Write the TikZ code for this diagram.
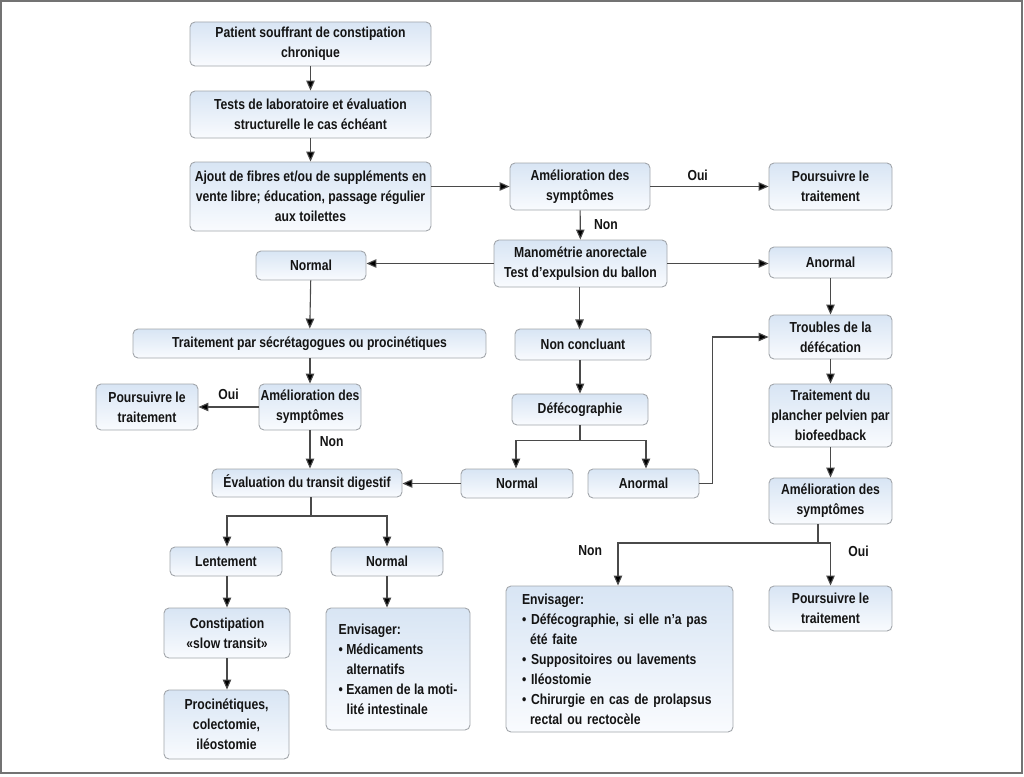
\documentclass[tikz,border=0pt]{standalone}
\usepackage{fontspec}
\setmainfont[FakeStretch=0.84]{Liberation Sans}
\usetikzlibrary{arrows.meta,shapes.misc}
\definecolor{boxtop}{HTML}{D8E5F4}
\definecolor{boxbot}{HTML}{F9FBFE}
\definecolor{boxline}{HTML}{A2A6AB}
\definecolor{conn}{HTML}{4A4A4A}
\definecolor{txt}{HTML}{141414}
\begin{document}
\begin{tikzpicture}[x=1pt,y=-1pt,
  box/.style={draw=boxline, line width=0.9pt, rounded corners=5pt, top color=boxtop, bottom color=boxbot,
    inner sep=1pt, align=center, font=\fontsize{14.5}{20}\selectfont\bfseries, text=txt},
  lbox/.style={box, align=left, text width=#1},
  arr/.style={draw=conn, line width=1.1pt, -{Triangle[length=10pt,width=8.5pt,fill=black]}},
  ln/.style={draw=conn, line width=1.1pt},
  lab/.style={font=\fontsize{14.5}{16}\selectfont\bfseries, text=txt}]
\useasboundingbox (0,0) rectangle (1024,776);
\draw[draw=gray!90!black, line width=2pt] (1,1) rectangle (1022,773);

\node[box, minimum width=241, minimum height=44] (p1) at (310.5,44) {Patient souffrant de constipation\\chronique};
\node[box, minimum width=241, minimum height=47] (p2) at (310.5,114.5) {Tests de laboratoire et évaluation\\structurelle le cas échéant};
\node[box, minimum width=241, minimum height=69] (p3) at (310.5,196.5) {Ajout de fibres et/ou de suppléments en\\vente libre; éducation, passage régulier\\aux toilettes};
\node[box, minimum width=140, minimum height=47] (am1) at (580,186.5) {Amélioration des\\symptômes};
\node[box, minimum width=123, minimum height=47] (po1) at (830.5,186.5) {Poursuivre le\\traitement};
\node[box, minimum width=173, minimum height=47] (mano) at (580.5,263.5) {Manométrie anorectale\\Test d’expulsion du ballon};
\node[box, minimum width=110, minimum height=29] (nl) at (311,265.5) {Normal};
\node[box, minimum width=123, minimum height=31] (an1) at (830.5,262.5) {Anormal};
\node[box, minimum width=353, minimum height=29] (tsp) at (309.5,343.5) {Traitement par sécrétagogues ou procinétiques};
\node[box, minimum width=136, minimum height=31] (nc) at (583,344.5) {Non concluant};
\node[box, minimum width=123, minimum height=44] (tr) at (830.5,337) {Troubles de la\\défécation};
\node[box, minimum width=102, minimum height=46] (po2) at (147,407) {Poursuivre le\\traitement};
\node[box, minimum width=102, minimum height=46, inner sep=0pt] (am2) at (310,407) {Amélioration des\\symptômes};
\node[box, minimum width=136, minimum height=31] (defe) at (580,409.5) {Défécographie};
\node[box, minimum width=123, minimum height=63, inner sep=0pt] (pl) at (830.5,415.5) {Traitement du\\plancher pelvien par\\biofeedback};
\node[box, minimum width=190, minimum height=28] (ev) at (307,483) {Évaluation du transit digestif};
\node[box, minimum width=112, minimum height=29] (nm) at (517,483.5) {Normal};
\node[box, minimum width=111, minimum height=29] (amd) at (643.5,483.5) {Anormal};
\node[box, minimum width=123, minimum height=46] (am3) at (830.5,501) {Amélioration des\\symptômes};
\node[box, minimum width=112, minimum height=29] (le) at (226,561.5) {Lentement};
\node[box, minimum width=112, minimum height=29] (no) at (387,561.5) {Normal};
\node[box, minimum width=126, minimum height=50] (cs) at (227,633) {Constipation\\«slow transit»};
\node[box, minimum width=125, minimum height=69] (pr) at (226.5,724.5) {Procinétiques,\\colectomie,\\iléostomie};
\node[box, align=left, minimum width=144, minimum height=122] (env1) at (398,669) {Envisager:\\
  • Médicaments\\\hspace*{8pt}alternatifs\\
  • Examen de la moti-\\\hspace*{8pt}lité intestinale};
\node[lbox=195, minimum width=227, minimum height=146, inner xsep=16pt] (env2) at (619.5,659) {Envisager:\\
  • Défécographie, si elle n’a pas\\\hspace*{8pt}été faite\\
  • Suppositoires ou lavements\\
  • Iléostomie\\
  • Chirurgie en cas de prolapsus\\\hspace*{8pt}rectal ou rectocèle};
\node[box, minimum width=123, minimum height=45] (po3) at (830.5,608.5) {Poursuivre le\\traitement};

% connectors
\draw[arr] (p1) -- (p2);
\draw[arr] (p2) -- (p3);
\draw[arr] (p3.east |- am1) -- (am1.west);
\draw[arr] (am1) -- node[lab, above=2pt, pos=0.4] {Oui} (po1);
\draw[arr] (am1) -- node[lab, right=10pt] {Non} (mano);
\draw[arr] (mano.west) -- (mano.west -| nl.east);
\draw[arr] (mano.east) -- (mano.east -| an1.west);
\draw[arr] (mano.south -| nc.north west) ++(65,0) -- ++(0,42);
\draw[arr] (nl) -- (tsp);
\draw[arr] (an1) -- (tr);
\draw[arr] (tsp.south -| am2.north) -- (am2.north);
\draw[arr] (am2) -- node[lab, above=3pt, pos=0.5] {Oui} (po2);
\draw[arr] (am2.south) -- node[lab, right=6pt, pos=0.3] {Non} (am2.south |- ev.north);
\draw[arr] (nc.south -| defe.north) -- (defe.north);
\draw[ln] (defe.south) -- ++(0,15) coordinate (dfk);
\draw[arr] (dfk) -| ([xshift=-1pt]nm.north);
\draw[arr] (dfk) -| ([xshift=2.5pt]amd.north);
\draw[arr] (nm.west) -- (nm.west -| ev.east);
\draw[arr] (amd.east) -- ++(13,0) |- (tr.west);
\draw[arr] (tr) -- (pl);
\draw[arr] (pl) -- (am3);
\draw[ln] ([xshift=-12.5pt]am3.south) -- ++(0,18.5) coordinate (afk);
\draw[arr] (afk) -| node[lab, pos=0.5, anchor=north east, xshift=-12pt, yshift=1pt] {Non} ([xshift=-1.5pt]env2.north);
\draw[arr] (afk) -| node[lab, pos=0.5, anchor=north west, xshift=14pt, yshift=1pt] {Oui} (po3.north);
\draw[ln] ([xshift=4pt]ev.south) -- ++(0,18.5) coordinate (efk);
\draw[arr] (efk) -| ([xshift=1pt]le.north);
\draw[arr] (efk) -| (no.north);
\draw[arr] ([xshift=1pt]le.south) -- ([xshift=1pt]le.south |- cs.north);
\draw[arr] (no) -- (no.south |- env1.north);
\draw[arr] (cs) -- (cs.south |- pr.north);
\end{tikzpicture}
\end{document}
